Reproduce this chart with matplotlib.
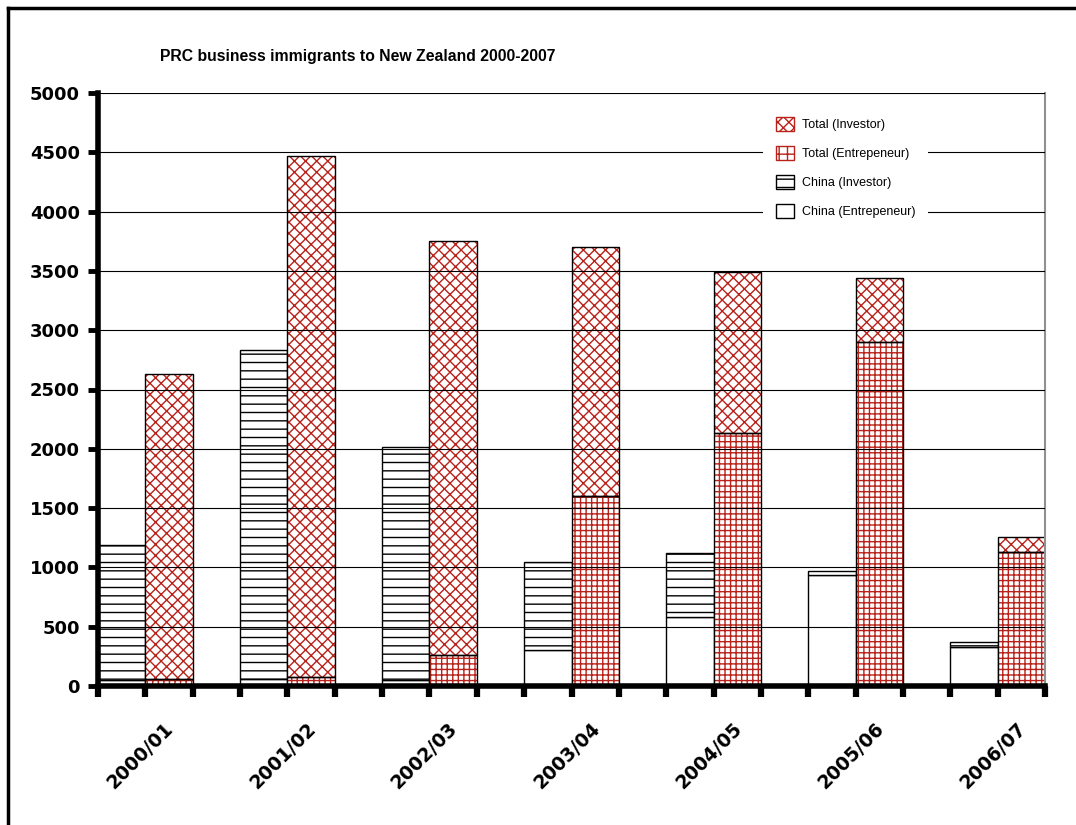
import matplotlib
matplotlib.use("Agg")
import matplotlib.pyplot as plt
from matplotlib.patches import Patch
from matplotlib.lines import Line2D
import numpy as np

years = ['2000/01', '2001/02', '2002/03', '2003/04', '2004/05', '2005/06', '2006/07']
china_entre = [50, 60, 50, 305, 582, 936, 329]
china_inv = [1140, 2773, 1965, 740, 539, 34, 45]
total_entre = [60, 80, 261, 1602, 2133, 2900, 1130]
total_inv = [2570, 4389, 3491, 2100, 1358, 540, 126]

red = '#b8221a'
plt.rcParams['hatch.linewidth'] = 1.0

fig = plt.figure(figsize=(10.76, 8.25), dpi=100)
ax = fig.add_axes([98 / 1076, 1 - 686 / 825, (1045 - 98) / 1076, (686 - 93) / 825])

n = len(years)
left_x = np.arange(n) * 3
right_x = left_x + 1

# left column: China, entrepreneur at the bottom, investor on top
ax.bar(left_x, china_entre, width=1, align='edge', color='white',
       edgecolor='black', linewidth=1)
ax.bar(left_x, china_inv, width=1, align='edge', bottom=china_entre,
       color='white', edgecolor='black', linewidth=1, hatch='--')

# right column: totals; hatch drawn in red, outline in black
ax.bar(right_x, total_entre, width=1, align='edge', color='white',
       edgecolor=red, linewidth=0, hatch='+++')
ax.bar(right_x, total_inv, width=1, align='edge', bottom=total_entre,
       color='white', edgecolor=red, linewidth=0, hatch='xxx')
ax.bar(right_x, total_entre, width=1, align='edge', fill=False,
       edgecolor='black', linewidth=1)
ax.bar(right_x, total_inv, width=1, align='edge', bottom=total_entre,
       fill=False, edgecolor='black', linewidth=1)

ax.set_xlim(0, 3 * n - 1)
ax.set_ylim(0, 5000)
ax.set_yticks(np.arange(0, 5001, 500))
ax.set_xticks(np.arange(0, 3 * n))
ax.set_xticklabels([])
ax.set_axisbelow(False)
ax.yaxis.grid(True, color='black', linewidth=0.8)

for lab in ax.get_yticklabels():
    lab.set_fontweight('bold')
    lab.set_fontsize(13)
    lab.set_fontfamily('DejaVu Sans')
ax.tick_params(axis='y', direction='out', length=7, width=3.5, pad=6)
ax.tick_params(axis='x', direction='out', length=8, width=4.5)

for i, yr in enumerate(years):
    ax.text(3 * i + 0.9, -0.118, yr, transform=ax.get_xaxis_transform(),
            rotation=45, ha='center', va='center', fontsize=13.5,
            fontweight='bold', family='DejaVu Sans')

ax.spines['left'].set_linewidth(4)
ax.spines['bottom'].set_linewidth(4)
ax.spines['top'].set_visible(False)
ax.spines['right'].set_color('#909090')
ax.spines['right'].set_linewidth(1.5)

fig.text(160 / 1076, 1 - 57 / 825, 'PRC business immigrants to New Zealand 2000-2007',
         fontsize=11.3, fontweight='bold', family='Liberation Sans', va='center')

handles = [
    Patch(facecolor='white', edgecolor=red, hatch='xxx', label='Total (Investor)'),
    Patch(facecolor='white', edgecolor=red, hatch='++', label='Total (Entrepeneur)'),
    Patch(facecolor='white', edgecolor='black', hatch='--', label='China (Investor)'),
    Patch(facecolor='white', edgecolor='black', label='China (Entrepeneur)'),
]
leg = ax.legend(handles=handles, loc='upper left',
                bbox_to_anchor=(763 / 1076, 1 - 104 / 825),
                bbox_transform=fig.transFigure, frameon=True, fancybox=False,
                edgecolor='none', facecolor='white', framealpha=1,
                prop={'family': 'Liberation Sans', 'size': 9},
                handlelength=1.45, handleheight=1.36, labelspacing=1.2,
                handletextpad=0.64, borderpad=1.0, borderaxespad=0)
leg.set_zorder(5)

# border lines along the top and left of the figure
fig.add_artist(Line2D([8 / 1076, 8 / 1076], [0, 1 - 8 / 825], color='black',
                      linewidth=2.5, transform=fig.transFigure))
fig.add_artist(Line2D([8 / 1076, 1], [1 - 8 / 825, 1 - 8 / 825], color='black',
                      linewidth=2.5, transform=fig.transFigure))

fig.savefig('out.png', dpi=100)
